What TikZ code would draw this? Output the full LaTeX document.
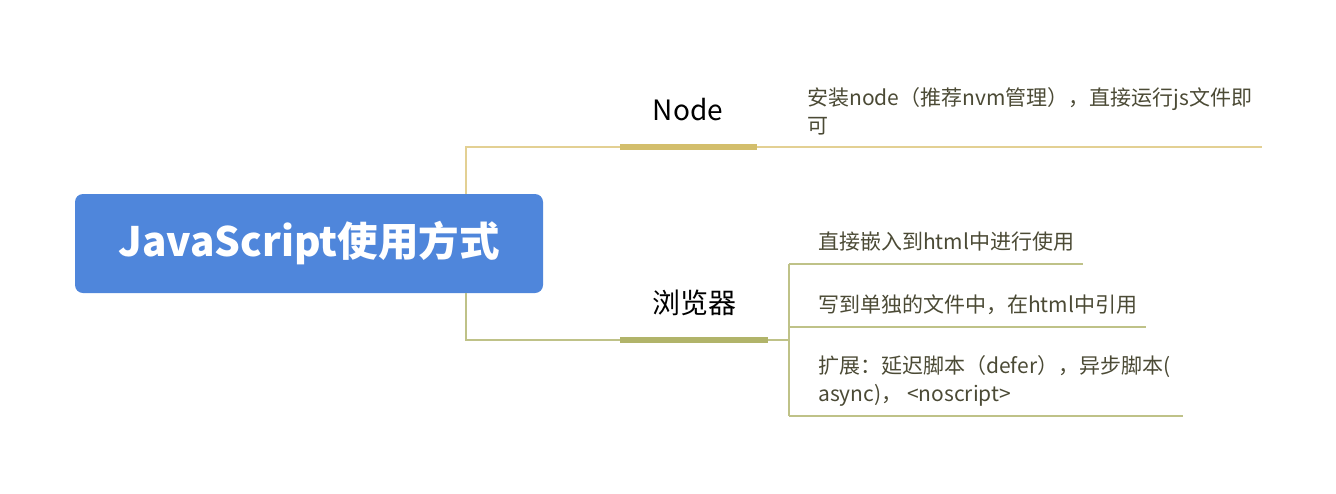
\documentclass[tikz,border=0pt]{standalone}
\usepackage{fontspec}
\setmainfont{Noto Sans CJK SC}
\usetikzlibrary{positioning}

\definecolor{rootblue}{HTML}{4F86DB}
\definecolor{tanbar}{HTML}{D3BE6C}
\definecolor{tanline}{HTML}{E3D093}
\definecolor{olivebar}{HTML}{B1B46A}
\definecolor{oliveline}{HTML}{BFC288}
\definecolor{leafgray}{HTML}{4B4A35}

\tikzset{
  branchbar/.style={minimum height=6pt, inner sep=0pt},
  branchlabel/.style={font=\fontsize{28}{30}\selectfont, text=black, inner sep=0pt},
  leaftext/.style={font=\fontsize{21}{28}\selectfont, text=leafgray, anchor=west, align=left, inner sep=0pt}
}

\begin{document}
\begin{tikzpicture}[x=1pt, y=-1pt]
  \useasboundingbox (0,0) rectangle (1336,493);
  \coordinate (trunk) at (466,0);
  % root
  \node[fill=rootblue, rounded corners=8pt, minimum width=468pt, minimum height=99pt, inner sep=0pt,
        text=white, font=\fontsize{40.5}{42}\selectfont\bfseries] (root) at (309,243.5) {JavaScript使用方式};
  % first branch
  \node[branchbar, fill=tanbar, minimum width=137pt] (nodebar) at (688.5,147) {};
  \node[branchlabel] (nodelabel) at (688,110) {Node};
  \node[leaftext] (nodeleaf) at (807,111.5) {安装node（推荐nvm管理），直接运行js文件即\\可};
  \coordinate (nodeend) at (1262,147);
  \draw[tanline, line width=1.5pt] (root.north -| trunk) |- (nodebar.west);
  \draw[tanline, line width=1.5pt] (nodebar.east) -- (nodeend);
  % second branch
  \node[branchbar, fill=olivebar, minimum width=148pt] (webbar) at (694,340) {};
  \node[branchlabel] (weblabel) at (694,303) {浏览器};
  \coordinate (webfork) at (789,340);
  \draw[oliveline, line width=1.5pt] (root.south -| trunk) |- (webbar.west);
  \draw[oliveline, line width=1.5pt] (webbar.east) -- (webfork);
  \node[leaftext] (webleafa) at (818,242) {直接嵌入到html中进行使用};
  \node[leaftext] (webleafb) at (818,305) {写到单独的文件中，在html中引用};
  \node[leaftext] (webleafc) at (818,380.5) {扩展：延迟脚本（defer），异步脚本(\\async)， <noscript>};
  \coordinate (enda) at (1083,264);
  \coordinate (endb) at (1146,327);
  \coordinate (endc) at (1183,416);
  \draw[oliveline, line width=1.5pt] (enda -| webfork) -- (endc -| webfork);
  \foreach \e in {enda,endb,endc}
    \draw[oliveline, line width=1.5pt] (\e -| webfork) -- (\e);
\end{tikzpicture}
\end{document}
